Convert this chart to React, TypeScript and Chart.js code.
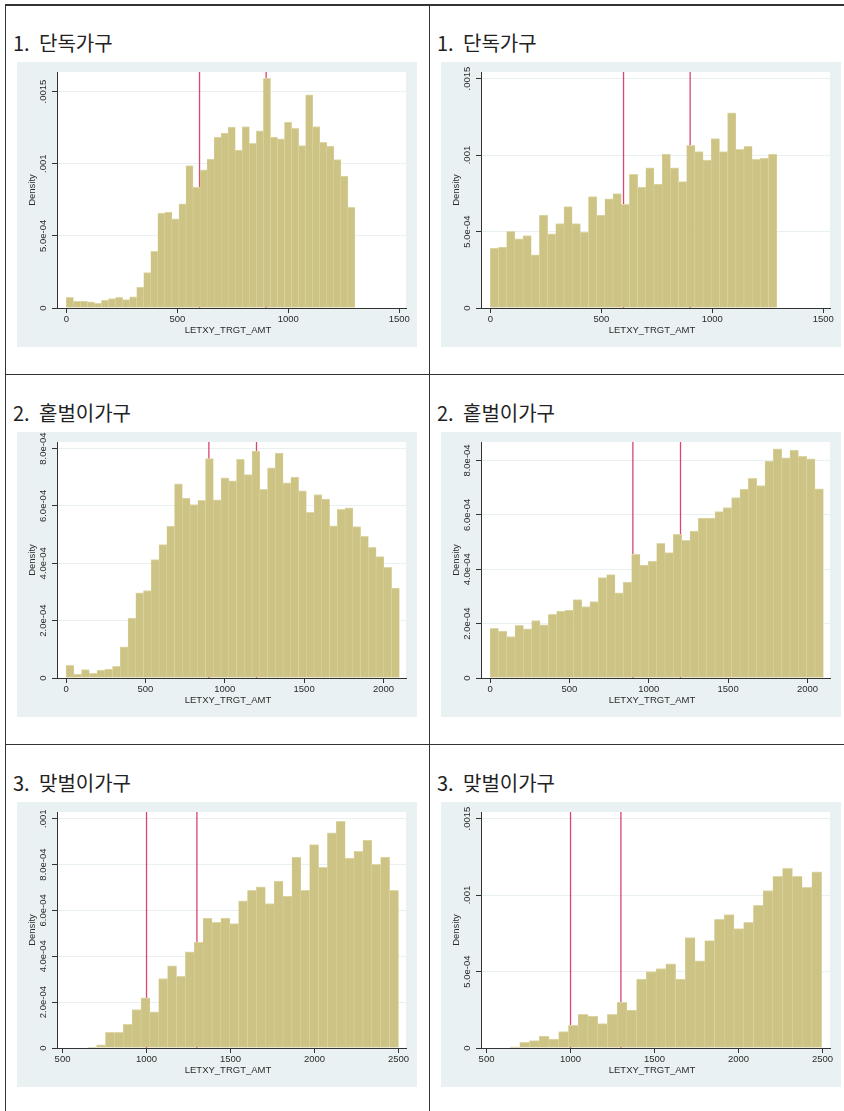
import React, { useEffect, useRef } from "react";
import { Chart, registerables } from "chart.js";

Chart.register(...registerables);

// ---------- data ----------
const panelNumbers = ["1.", "1.", "2.", "2.", "3.", "3."];
const panelNames = ["단독가구", "단독가구", "홑벌이가구", "홑벌이가구", "맞벌이가구", "맞벌이가구"];
const xTitle = "LETXY_TRGT_AMT";
const yTitle = "Density";

// histogram densities (one value per bin)
const single1 = [
  7.4e-5, 4.8e-5, 4.8e-5, 4.2e-5, 3.2e-5, 5.3e-5, 6.5e-5, 7.4e-5, 5.8e-5, 7.8e-5,
  1.45e-4, 2.45e-4, 3.92e-4, 6.58e-4, 6.65e-4, 6.18e-4, 7.22e-4, 9.88e-4, 8.38e-4, 9.58e-4,
  1.032e-3, 1.184e-3, 1.212e-3, 1.255e-3, 1.094e-3, 1.258e-3, 1.142e-3, 1.228e-3, 1.592e-3, 1.184e-3,
  1.172e-3, 1.288e-3, 1.246e-3, 1.126e-3, 1.477e-3, 1.258e-3, 1.149e-3, 1.122e-3, 1.029e-3, 0.914e-3,
  0.697e-3,
];
const single2 = [
  3.91e-4, 3.98e-4, 5.02e-4, 4.52e-4, 4.74e-4, 3.48e-4, 6.07e-4, 4.85e-4, 5.52e-4, 6.63e-4,
  5.52e-4, 4.96e-4, 7.28e-4, 6.07e-4, 7.13e-4, 7.48e-4, 6.78e-4, 8.74e-4, 7.91e-4, 9.17e-4,
  8.11e-4, 1.007e-3, 9.17e-4, 8.26e-4, 1.063e-3, 1.022e-3, 0.967e-3, 1.107e-3, 1.022e-3, 1.276e-3,
  1.037e-3, 1.057e-3, 0.972e-3, 0.98e-3, 1.007e-3,
];
const oneEarner1 = [
  4.4e-5, 1.4e-5, 2.9e-5, 1.6e-5, 2.8e-5, 3.1e-5, 4.1e-5, 1.09e-4, 2.09e-4, 2.97e-4,
  3.05e-4, 4.13e-4, 4.65e-4, 5.3e-4, 6.77e-4, 6.27e-4, 6.05e-4, 6.2e-4, 7.65e-4, 6.21e-4,
  6.98e-4, 6.88e-4, 7.63e-4, 7.09e-4, 7.91e-4, 6.58e-4, 7.33e-4, 7.84e-4, 6.81e-4, 7.01e-4,
  6.53e-4, 5.78e-4, 6.4e-4, 6.24e-4, 5.31e-4, 5.88e-4, 5.93e-4, 5.28e-4, 4.94e-4, 4.56e-4,
  4.23e-4, 3.86e-4, 3.14e-4,
];
const oneEarner2 = [
  1.83e-4, 1.73e-4, 1.52e-4, 1.94e-4, 1.81e-4, 2.11e-4, 1.96e-4, 2.34e-4, 2.46e-4, 2.5e-4,
  2.88e-4, 2.63e-4, 2.81e-4, 3.69e-4, 3.8e-4, 3.13e-4, 3.53e-4, 4.55e-4, 4.15e-4, 4.3e-4,
  4.95e-4, 4.61e-4, 5.28e-4, 5.06e-4, 5.4e-4, 5.88e-4, 5.88e-4, 6.12e-4, 6.27e-4, 6.64e-4,
  6.95e-4, 7.34e-4, 7.08e-4, 7.98e-4, 8.43e-4, 8.1e-4, 8.38e-4, 8.15e-4, 8.06e-4, 6.96e-4,
];
const dualEarner1 = [
  4e-6, 1.4e-5, 6.8e-5, 6.8e-5, 1.03e-4, 1.68e-4, 2.19e-4, 1.58e-4, 3.03e-4, 3.58e-4,
  3.12e-4, 4.19e-4, 4.62e-4, 5.67e-4, 5.48e-4, 5.67e-4, 5.42e-4, 6.42e-4, 6.87e-4, 7.03e-4,
  6.3e-4, 7.28e-4, 6.62e-4, 8.32e-4, 6.87e-4, 8.87e-4, 7.88e-4, 9.38e-4, 9.88e-4, 8.28e-4,
  8.57e-4, 9.07e-4, 8.01e-4, 8.32e-4, 6.87e-4,
];
const dualEarner2 = [
  7e-6, 3.7e-5, 4.8e-5, 7.8e-5, 5.9e-5, 1.07e-4, 1.48e-4, 2.2e-4, 2.09e-4, 1.59e-4,
  2.2e-4, 2.98e-4, 2.48e-4, 4.5e-4, 5.0e-4, 5.2e-4, 5.5e-4, 4.5e-4, 7.22e-4, 5.7e-4,
  7.02e-4, 8.41e-4, 8.72e-4, 7.8e-4, 8.22e-4, 9.33e-4, 1.03e-3, 1.122e-3, 1.174e-3, 1.122e-3,
  1.05e-3, 1.152e-3,
];
const panelValues = [single1, single2, oneEarner1, oneEarner2, dualEarner1, dualEarner2];

// bin range of each histogram
const binStarts = [0, 0, 0, 0, 650, 640];
const binEnds = [1300, 1290, 2100, 2100, 2500, 2495];

// reference lines (xline)
const refLinesTop = [600, 900];
const refLinesMid = [900, 1200];
const refLinesBot = [1000, 1300];
const panelRefLines = [refLinesTop, refLinesTop, refLinesMid, refLinesMid, refLinesBot, refLinesBot];

// axes
const xTicksTop = [0, 500, 1000, 1500];
const xTickLabelsTop = ["0", "500", "1000", "1500"];
const xTicksMid = [0, 500, 1000, 1500, 2000];
const xTickLabelsMid = ["0", "500", "1000", "1500", "2000"];
const xTicksBot = [500, 1000, 1500, 2000, 2500];
const xTickLabelsBot = ["500", "1000", "1500", "2000", "2500"];
const xMins = [-42, -42, -57, -57, 467, 467];
const xMaxs = [1530, 1530, 2142, 2142, 2545, 2545];

const yTicksA = [0, 0.0005, 0.001, 0.0015];
const yTickLabelsA = ["0", "5.0e-04", ".001", ".0015"];
const yTicksB = [0, 0.0002, 0.0004, 0.0006, 0.0008];
const yTickLabelsB = ["0", "2.0e-04", "4.0e-04", "6.0e-04", "8.0e-04"];
const yTicksC = [0, 0.0002, 0.0004, 0.0006, 0.0008, 0.001];
const yTickLabelsC = ["0", "2.0e-04", "4.0e-04", "6.0e-04", "8.0e-04", ".001"];
const yMaxs = [0.001636, 0.001543, 0.000823, 0.000868, 0.001029, 0.001543];

// ---------- styles ----------
const BG = "#EAF1F3";
const BAR_FILL = "#CCC384";
const BAR_EDGE = "#DED8A8";
const REF_LINE = "#D9466F";
const AXIS = "#333333";
const GRID = "#E8F0F2";
const TEXT = "#2b2b2b";
const FONT = "'Liberation Sans', Arial, sans-serif";
const CJK = "'Noto Sans CJK KR', 'Noto Sans', sans-serif";

type Panel = {
  values: number[];
  binStart: number;
  binEnd: number;
  xMin: number;
  xMax: number;
  xTicks: number[];
  xTickLabels: string[];
  yMax: number;
  yTicks: number[];
  yTickLabels: string[];
  refLines: number[];
};

const xTickSets = [
  [xTicksTop, xTickLabelsTop],
  [xTicksTop, xTickLabelsTop],
  [xTicksMid, xTickLabelsMid],
  [xTicksMid, xTickLabelsMid],
  [xTicksBot, xTickLabelsBot],
  [xTicksBot, xTickLabelsBot],
] as [number[], string[]][];
const yTickSets = [
  [yTicksA, yTickLabelsA],
  [yTicksA, yTickLabelsA],
  [yTicksB, yTickLabelsB],
  [yTicksB, yTickLabelsB],
  [yTicksC, yTickLabelsC],
  [yTicksA, yTickLabelsA],
] as [number[], string[]][];

const panels: Panel[] = panelValues.map((values, i) => ({
  values,
  binStart: binStarts[i],
  binEnd: binEnds[i],
  xMin: xMins[i],
  xMax: xMaxs[i],
  xTicks: xTickSets[i][0],
  xTickLabels: xTickSets[i][1],
  yMax: yMaxs[i],
  yTicks: yTickSets[i][0],
  yTickLabels: yTickSets[i][1],
  refLines: panelRefLines[i],
}));

const CANVAS_W = 400;
const CANVAS_H = 285;

function HistChart({ p }: { p: Panel }) {
  const ref = useRef<HTMLCanvasElement | null>(null);
  useEffect(() => {
    if (!ref.current) return;
    const n = p.values.length;
    const w = (p.binEnd - p.binStart) / n;
    const data = p.values.map((v, i) => ({ x: p.binStart + w * (i + 0.5), y: v }));

    const stataPlugin = {
      id: "stataLook",
      beforeDraw(chart: any) {
        const { ctx, chartArea: a } = chart;
        ctx.save();
        ctx.fillStyle = BG;
        ctx.fillRect(0, 0, chart.width, chart.height);
        ctx.fillStyle = "#ffffff";
        ctx.fillRect(a.left, a.top, a.right - a.left, a.bottom - a.top);
        ctx.restore();
      },
      beforeDatasetsDraw(chart: any) {
        const { ctx, chartArea: a } = chart;
        const xs = chart.scales.x;
        ctx.save();
        ctx.beginPath();
        ctx.rect(a.left, a.top, a.right - a.left, a.bottom - a.top);
        ctx.clip();
        ctx.strokeStyle = REF_LINE;
        ctx.lineWidth = 1.3;
        p.refLines.forEach((v) => {
          const px = xs.getPixelForValue(v);
          ctx.beginPath();
          ctx.moveTo(px, a.top);
          ctx.lineTo(px, a.bottom);
          ctx.stroke();
        });
        ctx.restore();
      },
      afterDraw(chart: any) {
        const { ctx, chartArea: a } = chart;
        const ys = chart.scales.y;
        ctx.save();
        ctx.fillStyle = TEXT;
        ctx.font = `9.5px ${FONT}`;
        ctx.textAlign = "center";
        ctx.textBaseline = "middle";
        p.yTicks.forEach((v, i) => {
          const py = ys.getPixelForValue(v);
          ctx.save();
          ctx.translate(a.left - 13.5, py);
          ctx.rotate(-Math.PI / 2);
          ctx.fillText(p.yTickLabels[i], 0, 0);
          ctx.restore();
        });
        ctx.save();
        ctx.translate(a.left - 24.5, (a.top + a.bottom) / 2);
        ctx.rotate(-Math.PI / 2);
        ctx.fillText(yTitle, 0, 0);
        ctx.restore();
        ctx.fillText(xTitle, (a.left + a.right) / 2 - 3.5, a.bottom + 22);
        ctx.restore();
      },
    };

    const chart = new Chart(ref.current, {
      type: "bar",
      data: {
        datasets: [
          {
            data,
            backgroundColor: BAR_FILL,
            borderColor: BAR_EDGE,
            borderWidth: { top: 1, left: 0.5, right: 0.5, bottom: 0 },
            borderSkipped: false,
            barPercentage: 1,
            categoryPercentage: 1,
          } as any,
        ],
      },
      options: {
        animation: false,
        responsive: false,
        devicePixelRatio: 1,
        layout: { padding: { top: 10, right: 11, left: 0, bottom: 0 } },
        plugins: { legend: { display: false }, tooltip: { enabled: false }, title: { display: false } },
        scales: {
          x: {
            type: "linear",
            position: "bottom",
            min: p.xMin,
            max: p.xMax,
            offset: false,
            z: 1,
            afterFit: (s: any) => {
              s.height = 39;
              s.paddingLeft = 0;
              s.paddingRight = 0;
            },
            afterBuildTicks: (s: any) => {
              s.ticks = p.xTicks.map((v) => ({ value: v }));
            },
            ticks: {
              autoSkip: false,
              maxRotation: 0,
              minRotation: 0,
              padding: 1,
              color: TEXT,
              font: { family: FONT, size: 9.5 },
              callback: (_v: any, i: number) => p.xTickLabels[i],
            },
            grid: { display: true, drawOnChartArea: false, offset: false, tickLength: 5, tickColor: AXIS, tickWidth: 1 },
            border: { display: true, color: AXIS, width: 1 },
          } as any,
          y: {
            type: "linear",
            position: "left",
            min: 0,
            max: p.yMax,
            afterFit: (s: any) => {
              s.width = 40;
              s.paddingTop = 0;
              s.paddingBottom = 0;
            },
            afterBuildTicks: (s: any) => {
              s.ticks = p.yTicks.map((v) => ({ value: v }));
            },
            ticks: { display: false },
            grid: { color: GRID, lineWidth: 1, tickLength: 5, tickColor: AXIS, tickWidth: 1, drawTicks: true },
            border: { display: true, color: AXIS, width: 1 },
          } as any,
        },
      },
      plugins: [stataPlugin],
    });
    return () => chart.destroy();
  }, [p]);

  return <canvas ref={ref} width={CANVAS_W} height={CANVAS_H} style={{ display: "block", width: CANVAS_W, height: CANVAS_H }} />;
}

// ---------- layout ----------
const colLines = [5, 429];
const rowLines = [4.5, 374.5, 744.5];
const canvasLefts = [17, 441];
const canvasTops = [62, 432, 802];

export default function App() {
  const line = "#333333";
  return (
    <div
      style={{
        position: "absolute",
        left: 0,
        top: 0,
        width: 844,
        height: 1111,
        background: "#ffffff",
        overflow: "hidden",
      }}
    >
      {/* table borders */}
      <div style={{ position: "absolute", left: 5, top: 4, width: 839, height: 2, background: line }} />
      <div style={{ position: "absolute", left: 5, top: 374, width: 839, height: 1, background: line }} />
      <div style={{ position: "absolute", left: 5, top: 744, width: 839, height: 1, background: line }} />
      <div style={{ position: "absolute", left: 5, top: 4, width: 1, height: 1107, background: line }} />
      <div style={{ position: "absolute", left: 429, top: 4, width: 1, height: 1107, background: line }} />

      {panels.map((p, i) => {
        const col = i % 2;
        const row = Math.floor(i / 2);
        const cx = colLines[col];
        const ry = rowLines[row];
        return (
          <React.Fragment key={i}>
            <div
              style={{
                position: "absolute",
                left: cx + 8,
                top: ry + 28,
                fontFamily: CJK,
                fontSize: 20,
                lineHeight: "20px",
                color: "#222",
                whiteSpace: "nowrap",
              }}
            >
              {panelNumbers[i]}
            </div>
            <div
              style={{
                position: "absolute",
                left: cx + 34,
                top: ry + 28,
                fontFamily: CJK,
                fontSize: 20,
                lineHeight: "20px",
                color: "#222",
                whiteSpace: "nowrap",
              }}
            >
              {panelNames[i]}
            </div>
            <div style={{ position: "absolute", left: canvasLefts[col], top: canvasTops[row] }}>
              <HistChart p={p} />
            </div>
          </React.Fragment>
        );
      })}
    </div>
  );
}
